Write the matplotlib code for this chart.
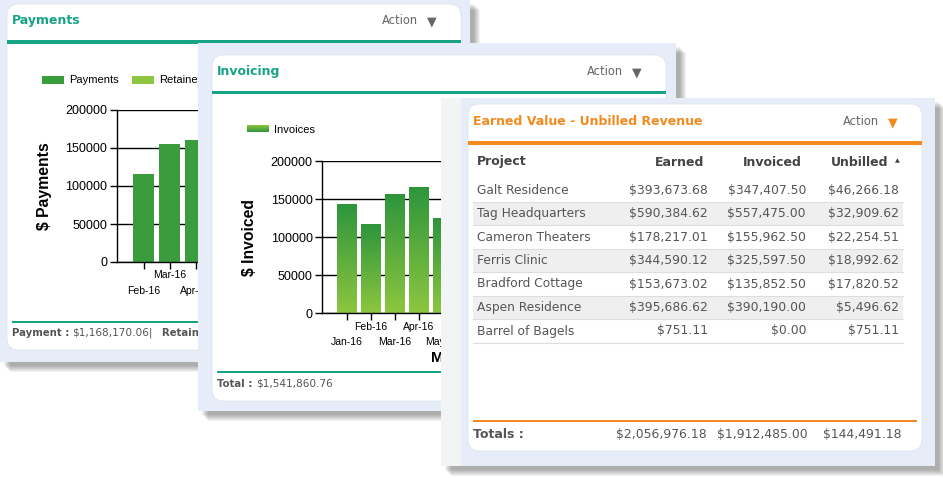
import numpy as np
import matplotlib
matplotlib.use("Agg")
import matplotlib.pyplot as plt
from matplotlib.patches import Rectangle, FancyBboxPatch
from matplotlib.colors import LinearSegmentedColormap

W, H = 943, 478

# ---- data ----
pay_months = ["Feb-16", "Mar-16", "Apr-16"]
pay_values = [116000, 155000, 160500]
pay_total = "$1,168,170.06"

inv_months = ["Jan-16", "Feb-16", "Mar-16", "Apr-16", "May-16"]
inv_values = [142500, 116000, 155500, 165000, 124000]
inv_total = "$1,541,860.76"

yticks = [0, 50000, 100000, 150000, 200000]

projects = ["Galt Residence", "Tag Headquarters", "Cameron Theaters", "Ferris Clinic",
            "Bradford Cottage", "Aspen Residence", "Barrel of Bagels"]
earned = ["$393,673.68", "$590,384.62", "$178,217.01", "$344,590.12",
          "$153,673.02", "$395,686.62", "$751.11"]
invoiced = ["$347,407.50", "$557,475.00", "$155,962.50", "$325,597.50",
            "$135,852.50", "$390,190.00", "$0.00"]
unbilled = ["$46,266.18", "$32,909.62", "$22,254.51", "$18,992.62",
            "$17,820.52", "$5,496.62", "$751.11"]
totals = ["$2,056,976.18", "$1,912,485.00", "$144,491.18"]

# colours
TEAL = "#17a386"
ORANGE = "#f28a1e"
FRAME = "#e6ecf8"
GREY_TXT = "#555555"
DARK_GREEN = "#3a9c3c"
LIGHT_GREEN = "#8dc63f"

CHART_FONT = "Liberation Sans"
UI_FONT = "DejaVu Sans"

fig = plt.figure(figsize=(W / 100, H / 100), dpi=100)
fig.patch.set_facecolor("white")


def layer(z):
    # full-figure axes working in pixel units, y pointing down
    ax = fig.add_axes([0, 0, 1, 1], zorder=z)
    ax.set_xlim(0, W)
    ax.set_ylim(H, 0)
    ax.axis("off")
    ax.patch.set_visible(False)
    return ax


def frame(ax, x0, y0, x1, y1):
    for i in range(1, 8):
        ax.add_patch(Rectangle((x0 + 3 + i, y0 + 3 + i), x1 - x0, y1 - y0,
                               fc="black", ec="none", alpha=0.05))
    ax.add_patch(Rectangle((x0, y0), x1 - x0, y1 - y0, fc=FRAME, ec="none"))


def card(ax, x0, y0, x1, y1):
    ax.add_patch(FancyBboxPatch((x0, y0), x1 - x0, y1 - y0,
                                boxstyle="round,pad=0,rounding_size=12",
                                fc="white", ec="#dfe4ec", lw=0.6))


def header(ax, x0, x1, y, title, colour, action_x, tri_colour):
    ax.text(x0 + 5, y, title, color=colour, fontsize=9, fontweight="bold",
            family=UI_FONT, va="center")
    ax.text(action_x, y, "Action", color="#666666", fontsize=8.3, family=UI_FONT, va="center")
    ax.text(action_x + 50, y + 1.5, "\u25bc", color=tri_colour, fontsize=9,
            family=UI_FONT, va="center", ha="center")


def chart_axes(l, t, r, b, first_tick, pitch, z):
    ax = fig.add_axes([l / W, 1 - b / H, (r - l) / W, (b - t) / H], zorder=z)
    ax.patch.set_visible(False)
    ax.set_xlim(-(first_tick - l) / pitch, (r - first_tick) / pitch)
    ax.set_ylim(0, 200000)
    ax.set_yticks(yticks)
    ax.set_yticklabels([str(v) for v in yticks], fontsize=9, family=CHART_FONT)
    ax.yaxis.grid(True, color="black", lw=1)
    ax.set_axisbelow(True)
    for s in ["top", "right"]:
        ax.spines[s].set_visible(False)
    for s in ["left", "bottom"]:
        ax.spines[s].set_color("black")
        ax.spines[s].set_linewidth(1)
    ax.tick_params(axis="y", length=5, width=1, pad=2, colors="black")
    ax.tick_params(axis="x", length=5, width=1, labelbottom=False)
    return ax


def month_labels(ax, months, axh):
    ax.set_xticks(range(len(months)))
    for i, m in enumerate(months):
        off = 13.5 if i % 2 else 28.5
        ax.text(i, -off / axh, m, transform=ax.get_xaxis_transform(), ha="center",
                va="center", fontsize=7.5, family=CHART_FONT)


# ================= Payments panel =================
p1 = layer(1)
frame(p1, 0, 0, 470, 362)
card(p1, 7, 4, 461, 350)
header(p1, 7, 461, 20, "Payments", TEAL, 382, "#666666")
p1.add_patch(Rectangle((7, 40), 454, 3.5, fc=TEAL, ec="none"))
p1.add_patch(Rectangle((42, 75.5), 22, 8.5, fc=DARK_GREEN, ec="none"))
p1.text(69, 80, "Payments", fontsize=8, family=CHART_FONT, va="center")
p1.add_patch(Rectangle((132, 75.5), 22, 8.5, fc=LIGHT_GREEN, ec="none"))
p1.text(159, 80, "Retainer", fontsize=8, family=CHART_FONT, va="center")
p1.text(45, 186, "$ Payments", rotation=90, fontsize=11.3, fontweight="bold",
        family=CHART_FONT, ha="center", va="center")
p1.add_patch(Rectangle((12, 321), 444, 2, fc=TEAL, ec="none"))
p1.text(12, 333, "Payment :", fontsize=7.3, fontweight="bold", color=GREY_TXT,
        family=UI_FONT, va="center")
p1.text(72, 333, pay_total + "|", fontsize=7.6, color=GREY_TXT, family=UI_FONT, va="center")
p1.text(162, 333, "Retainer :", fontsize=7.3, fontweight="bold", color=GREY_TXT,
        family=UI_FONT, va="center")

c1 = chart_axes(117, 110, 430, 262, 143.7, 26, 2)
c1.bar(range(len(pay_values)), pay_values, width=0.8, color=DARK_GREEN, zorder=2)
month_labels(c1, pay_months, 152)
c1.text(0.5, -45 / 152, "Month", transform=c1.transAxes, ha="center", va="center",
        fontsize=11, fontweight="bold", family=CHART_FONT)

# ================= Invoicing panel =================
p2 = layer(3)
frame(p2, 198, 43, 676, 411)
card(p2, 212, 55, 666, 401)
header(p2, 212, 666, 71, "Invoicing", TEAL, 587, "#666666")
p2.add_patch(Rectangle((212, 90.7), 454, 3.6, fc=TEAL, ec="none"))

grad_cmap = LinearSegmentedColormap.from_list("inv", [LIGHT_GREEN, "#2d953c"])
grad = np.linspace(0, 1, 256)[:, None]
p2.imshow(grad[::-1], extent=(247, 269, 132.5, 125.5), cmap=grad_cmap, aspect="auto",
          origin="lower", zorder=2)
p2.set_xlim(0, W)
p2.set_ylim(H, 0)
p2.text(274, 130, "Invoices", fontsize=8, family=CHART_FONT, va="center")
p2.text(250, 237, "$ Invoiced", rotation=90, fontsize=11.3, fontweight="bold",
        family=CHART_FONT, ha="center", va="center")
p2.add_patch(Rectangle((217, 371), 444, 2, fc=TEAL, ec="none"))
p2.text(217, 384, "Total :", fontsize=7.3, fontweight="bold", color=GREY_TXT,
        family=UI_FONT, va="center")
p2.text(256, 384, inv_total, fontsize=7.6, color=GREY_TXT, family=UI_FONT, va="center")

c2 = chart_axes(322.3, 161.3, 586, 313.3, 346.7, 24, 4)
bars = c2.bar(range(len(inv_values)), inv_values, width=0.8, color="#5aae3e", zorder=2)
for b in bars:
    x0 = b.get_x()
    c2.imshow(grad, extent=(x0, x0 + b.get_width(), 0, b.get_height()), cmap=grad_cmap,
              aspect="auto", origin="lower", zorder=2.1)
c2.set_xlim(-(346.7 - 322.3) / 24, (586 - 346.7) / 24)
c2.set_ylim(0, 200000)
month_labels(c2, inv_months, 152)
c2.text(0.5, -45 / 152, "Month", transform=c2.transAxes, ha="center", va="center",
        fontsize=11, fontweight="bold", family=CHART_FONT)

# ================= Earned Value panel =================
p3 = layer(5)
frame(p3, 441, 98, 935, 466)
p3.add_patch(Rectangle((441, 98), 20, 368, fc="#f3f4f6", ec="none"))
card(p3, 468, 104, 922, 451)
header(p3, 468, 922, 121, "Earned Value - Unbilled Revenue", ORANGE, 843, ORANGE)
p3.add_patch(Rectangle((468, 141), 454, 3.5, fc=ORANGE, ec="none"))

col_x = [708, 806, 899]
hdr_kw = dict(fontsize=9, fontweight="bold", color="#444444", family=UI_FONT, va="center")
p3.text(477, 162, "Project", **hdr_kw)
p3.text(704, 162, "Earned", ha="right", **hdr_kw)
p3.text(802, 162, "Invoiced", ha="right", **hdr_kw)
p3.text(888, 162, "Unbilled", ha="right", **hdr_kw)
p3.text(897, 161, "\u25b2", fontsize=4.5, color="#444444", ha="center", va="center")

row_h = 23.5
for i, name in enumerate(projects):
    yc = 190 + i * row_h
    if i % 2 == 1:
        p3.add_patch(Rectangle((473, yc - row_h / 2), 430, row_h, fc="#efefef", ec="none"))
    p3.plot([473, 903], [yc + row_h / 2, yc + row_h / 2], color="#dddddd", lw=0.8)
    p3.text(477, yc, name, fontsize=8.8, color=GREY_TXT, family=UI_FONT, va="center")
    for x, col in zip(col_x, [earned, invoiced, unbilled]):
        p3.text(x, yc, col[i], fontsize=8.9, color=GREY_TXT, family=UI_FONT,
                va="center", ha="right")

p3.add_patch(Rectangle((473, 420), 444, 2.2, fc=ORANGE, ec="none"))
p3.text(473, 435, "Totals :", fontsize=9, fontweight="bold", color=GREY_TXT,
        family=UI_FONT, va="center")
for x, t in zip([707, 808, 901], totals):
    p3.text(x, 435, t, fontsize=8.9, color=GREY_TXT, family=UI_FONT, va="center", ha="right")

fig.savefig("out.png", dpi=100)
